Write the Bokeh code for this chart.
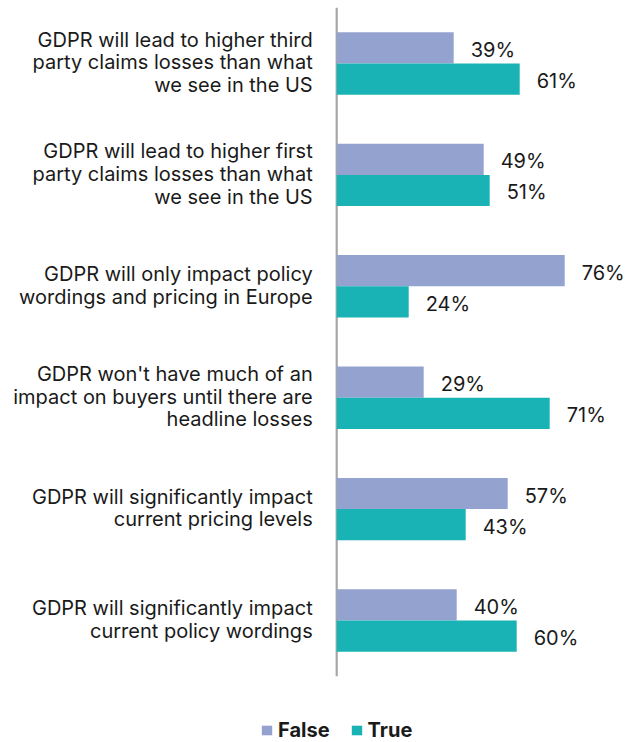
from bokeh.plotting import figure
from bokeh.models import Range1d, ColumnDataSource, Legend, LegendItem
from bokeh.core.properties import value
from bokeh.embed import file_html
from bokeh.resources import INLINE

categories = [
    "GDPR will lead to higher third\nparty claims losses than what\nwe see in the US",
    "GDPR will lead to higher first\nparty claims losses than what\nwe see in the US",
    "GDPR will only impact policy\nwordings and pricing in Europe",
    "GDPR won't have much of an\nimpact on buyers until there are\nheadline losses",
    "GDPR will significantly impact\ncurrent pricing levels",
    "GDPR will significantly impact\ncurrent policy wordings",
]
false_vals = [39, 49, 76, 29, 57, 40]
true_vals = [61, 51, 24, 71, 43, 60]

FALSE_COLOR = "#94A2D0"
TRUE_COLOR = "#1AB3B5"
FONT = "Inter"

n = len(categories)
centers = [i + 0.5 for i in range(n)]
bh = 0.28

W, H = 637, 742
AXIS_PX = 336.2
PX_PER_PCT = 3.0
TOP_PX = 7.3
unit = 111.4
y_top = -TOP_PX / unit
y_bot = (H - TOP_PX) / unit

p = figure(width=W, height=H, output_backend="svg", toolbar_location=None,
           x_range=Range1d(-AXIS_PX / PX_PER_PCT, (W - AXIS_PX) / PX_PER_PCT),
           y_range=Range1d(y_bot, y_top),
           min_border_left=0, min_border_right=0, min_border_top=0, min_border_bottom=0)
p.outline_line_color = None
p.xgrid.visible = False
p.ygrid.visible = False
p.xaxis.visible = False
p.yaxis.visible = False

# vertical category axis line
p.segment(x0=[0], y0=[0], x1=[0], y1=[n], line_color="#A6A6A6", line_width=2.2)

# category labels
p.text(x=[0] * n, y=centers, text=categories, x_offset=-24, y_offset=-1,
       text_align="right", text_baseline="middle", text_line_height=0.95,
       text_font=value(FONT), text_font_size="20px", text_color="#1a1a1a")

src_f = ColumnDataSource(dict(y=[c - bh / 2 for c in centers], v=false_vals,
                              lab=[f"{v}%" for v in false_vals]))
src_t = ColumnDataSource(dict(y=[c + bh / 2 for c in centers], v=true_vals,
                              lab=[f"{v}%" for v in true_vals]))

rf = p.hbar(y="y", left=0, right="v", height=bh, source=src_f, fill_color=FALSE_COLOR, line_color=None)
rt = p.hbar(y="y", left=0, right="v", height=bh, source=src_t, fill_color=TRUE_COLOR, line_color=None)

for s in (src_f, src_t):
    p.text(x="v", y="y", text="lab", source=s, x_offset=17, y_offset=2,
           text_align="left", text_baseline="middle",
           text_font=value(FONT), text_font_size="20px", text_color="#1a1a1a")

legend = Legend(items=[LegendItem(label="False", renderers=[rf]),
                       LegendItem(label="True", renderers=[rt])],
                orientation="horizontal", location=(260, 0),
                glyph_width=13, glyph_height=12, label_text_font=FONT,
                label_text_font_size="20px", label_text_font_style="bold",
                label_text_color="#1a1a1a", border_line_color=None,
                background_fill_alpha=0, label_height=12, label_text_baseline="middle",
                padding=0, margin=0, spacing=20, label_standoff=5)
p.add_layout(legend, "center")

open("out.html", "w").write(file_html(p, INLINE))
